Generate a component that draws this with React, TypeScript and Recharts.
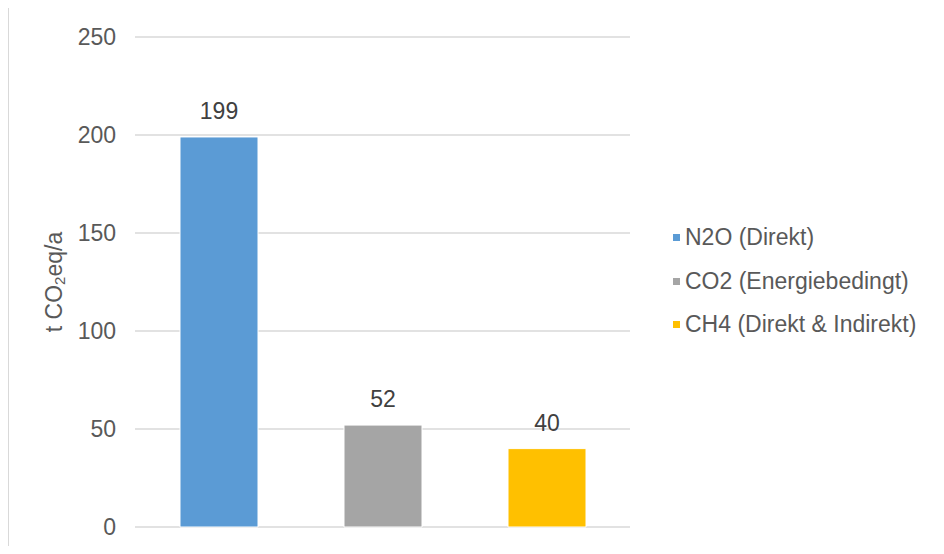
import { BarChart, Bar, XAxis, YAxis, CartesianGrid, Legend, LabelList } from 'recharts';

const category = 'Emissionen';
const seriesNames = ['N2O (Direkt)', 'CO2 (Energiebedingt)', 'CH4 (Direkt & Indirekt)'];
const seriesValues = [199, 52, 40];
const seriesColors = ['#5b9bd5', '#a5a5a5', '#ffc000'];
const yTicks = [0, 50, 100, 150, 200, 250];

const data = [
  Object.fromEntries([['name', category], ...seriesNames.map((n, i) => [n, seriesValues[i]])]),
];

const FONT = '"Liberation Sans", Arial, sans-serif';
const FS = 23;

function YLabel(props: any) {
  const vb = props.viewBox || { x: 0, y: 0, height: 0 };
  const cx = 54;
  const cy = vb.y + vb.height / 2;
  return (
    <text x={cx} y={cy} transform={`rotate(-90 ${cx} ${cy})`} textAnchor="middle" dominantBaseline="central"
      fill="#595959" fontSize={FS} fontFamily={FONT}>
      <tspan>t CO</tspan>
      <tspan fontSize={15} dy={5}>2</tspan>
      <tspan dy={-5}>eq/a</tspan>
    </text>
  );
}

function LegendBox({ payload }: any) {
  const items = [...(payload ?? [])].sort((a: any, b: any) => seriesNames.indexOf(a.value) - seriesNames.indexOf(b.value));
  return (
    <div style={{ fontFamily: FONT, fontSize: FS, color: '#595959' }}>
      {items.map((p: any) => (
        <div key={p.value} style={{ height: 43.5, display: 'flex', alignItems: 'center', whiteSpace: 'nowrap' }}>
          <span style={{ width: 7, height: 7, background: p.color, display: 'inline-block', marginRight: 5 }} />
          {p.value}
        </div>
      ))}
    </div>
  );
}

export default function App() {
  return (
    <div style={{ position: 'relative', width: 944, height: 554, margin: -8, overflow: 'hidden', background: '#fff' }}>
      <div style={{ position: 'absolute', left: 7, top: 6, width: 1000, height: 600, borderTop: '2px solid #d9d9d9', borderLeft: '2px solid #d9d9d9' }} />
      <div style={{ position: 'absolute', left: 0, top: 0 }}>
        <BarChart width={944} height={554} data={data} margin={{ top: 37, right: 314, bottom: 27, left: 0 }}
          barSize={78} barGap={86}>
          <CartesianGrid vertical={false} stroke="#d9d9d9" strokeWidth={1.5} />
          <XAxis dataKey="name" hide />
          <YAxis width={135} domain={[0, 250]} ticks={yTicks} axisLine={false} tickLine={false} tickSize={0} tickMargin={19}
            tick={{ fill: '#595959', fontSize: FS, fontFamily: FONT }} label={{ content: <YLabel /> }} />
          <Legend layout="vertical" align="center" verticalAlign="middle" content={<LegendBox />}
            wrapperStyle={{ left: 673, top: 216, width: 270 }} />
          {seriesNames.map((n, i) => (
            <Bar key={n} dataKey={n} name={n} fill={seriesColors[i]} stroke="#ffffff" strokeWidth={1} isAnimationActive={false}>
              <LabelList dataKey={n} position="top" offset={18} fill="#404040" fontSize={FS} fontFamily={FONT} />
            </Bar>
          ))}
        </BarChart>
      </div>
    </div>
  );
}
